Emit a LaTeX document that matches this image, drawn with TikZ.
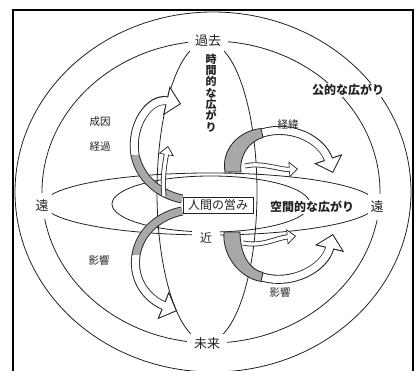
\documentclass[tikz,border=0pt]{standalone}
\usepackage{fontspec}
\setmainfont{Noto Sans CJK JP}
\usetikzlibrary{arrows.meta}
\definecolor{ink}{HTML}{222222}
\definecolor{ribgray}{HTML}{A8A8A8}
\tikzset{
  ln/.style={draw=ink, line width=0.8pt},
  lbl/.style={fill=white, text=ink, inner xsep=7pt, inner ysep=4pt, font=\fontsize{13}{13}\selectfont},
  sm/.style={text=ink, font=\fontsize{10.5}{10.5}\selectfont, inner sep=1pt},
  rout/.style={line width=9pt, draw=ink, -{Triangle[length=15pt,width=29pt]}},
  rin/.style={line width=7.2pt, draw=white, shorten >=1.5pt, -{Triangle[length=12.4pt,width=24.2pt]}},
  rgray/.style={line width=7.2pt, draw=ribgray},
  crescent/.style={fill=ribgray, draw=ink, line width=0.8pt},
  sout/.style={line width=5pt, draw=ink, -{Triangle[length=9pt,width=15pt]}},
  sin/.style={line width=3.4pt, draw=white, shorten >=1.3pt, -{Triangle[length=7pt,width=11.6pt]}},
}
\begin{document}
\begin{tikzpicture}[x=1pt,y=-1pt]
\useasboundingbox (0,0) rectangle (416,371);
% frame
\draw[black, line width=2pt] (13,371) -- (13,10) -- (413,10) -- (413,371);
% outer ellipse
\begin{scope}
  \clip (14,11) rectangle (412,371);
  \draw[ln] (213,192) ellipse [x radius=198pt, y radius=180pt];
\end{scope}
% second ellipse
\draw[ln] (211,192) ellipse [x radius=169pt, y radius=151pt];
% vertical lens
\draw[ln] (207,192) ellipse [x radius=50pt, y radius=150pt];
% horizontal lens
\draw[ln] (210,204) ellipse [x radius=166pt, y radius=31pt];
% inner loop
\draw[ln] (211,204) ellipse [x radius=99pt, y radius=28pt];

% ---- big hollow arrows ----
% upper left
\coordinate (ulA) at (182,199); \coordinate (ulM) at (135,155); \coordinate (ulT) at (181,104);
\draw[rout] (ulA) .. controls (158,194) and (140,178) .. (ulM) .. controls (130,125) and (150,97) .. (ulT);
\draw[rgray] (ulA) .. controls (158,194) and (140,178) .. (ulM);
\draw[rin] (ulM) .. controls (130,125) and (150,97) .. (ulT);
% lower left
\coordinate (llA) at (182,211); \coordinate (llM) at (136,255); \coordinate (llT) at (177,311);
\draw[rout] (llA) .. controls (158,216) and (140,232) .. (llM) .. controls (132,283) and (150,300) .. (llT);
\draw[rgray] (llA) .. controls (158,216) and (140,232) .. (llM);
\draw[rin] (llM) .. controls (132,283) and (150,300) .. (llT);
% upper right
\coordinate (urA) at (233,172); \coordinate (urM) at (262,133); \coordinate (urT) at (333,173);
\draw[rout] (urA) .. controls (229,153) and (242,139) .. (urM) .. controls (292,124) and (322,140) .. (urT);
\draw[rin] (urM) .. controls (292,124) and (322,140) .. (urT);
\draw[crescent] (225,172) .. controls (221,150) and (238,131) .. (261,128.5) -- (263,137.5)
  .. controls (249,141) and (239,156) .. (241,172) -- cycle;
% lower right
\coordinate (lrA) at (232,233); \coordinate (lrM) at (262,277); \coordinate (lrT) at (333,234);
\draw[rout] (lrA) .. controls (231,254) and (243,271) .. (lrM) .. controls (292,286) and (325,268) .. (lrT);
\draw[rin] (lrM) .. controls (292,286) and (325,268) .. (lrT);
\draw[crescent] (224,232) .. controls (222,256) and (240,278) .. (261,281.5) -- (263,272.5)
  .. controls (250,270) and (240,255) .. (240,232) -- cycle;

% ---- small hollow arrows ----
\coordinate (s1a) at (245,166); \coordinate (s1b) at (298,169);
\draw[sout] (s1a) .. controls (262,162) and (280,170) .. (s1b);
\draw[sin]  (s1a) .. controls (262,162) and (280,170) .. (s1b);
\coordinate (s2a) at (243,243); \coordinate (s2b) at (296,236);
\draw[sout] (s2a) .. controls (262,247) and (276,238) .. (s2b);
\draw[sin]  (s2a) .. controls (262,247) and (276,238) .. (s2b);
\coordinate (s3a) at (164,196); \coordinate (s3b) at (168,146);
\draw[sout] (s3a) .. controls (162,178) and (165,162) .. (s3b);
\draw[sin]  (s3a) .. controls (162,178) and (165,162) .. (s3b);

% ---- labels on the rings ----
\node[lbl] (kako) at (208,41) {過去};
\node[lbl] (mirai) at (207,344) {未来};
\node[lbl, inner xsep=3pt, inner ysep=7pt] (enL) at (42,206) {遠};
\node[lbl, inner xsep=3pt, inner ysep=7pt] (enR) at (377,207) {遠};
\node[lbl, inner xsep=8pt, inner ysep=2pt, font=\fontsize{12}{12}\selectfont] (kin) at (206,238) {近};

% center box
\node[draw=ink, line width=0.8pt, fill=white, text=ink, inner xsep=3pt, inner ysep=2pt,
      minimum width=70pt, minimum height=16pt, font=\fontsize{12}{12}\selectfont] (human) at (218,205) {人間の営み};
\node[fill=white, text=ink, inner sep=1pt, font=\bfseries\fontsize{12}{12}\selectfont] (space) at (312,207) {空間的な広がり};
\node[fill=white, text=ink, inner sep=1pt, font=\bfseries\fontsize{12}{12}\selectfont] (public) at (348,90) {公的な広がり};
\node[fill=white, text=ink, inner sep=1pt, align=center, font=\bfseries\fontsize{11}{11.3}\selectfont] (time) at (211,93) {時\\間\\的\\な\\広\\が\\り};

% small labels
\node[sm] (seiin) at (100,122) {成因};
\node[sm] (keika) at (100,147) {経過};
\node[sm] (eikyoL) at (99,261) {影響};
\node[sm] (keii) at (288,125) {経緯};
\node[sm] (eikyoR) at (280,293) {影響};
\end{tikzpicture}
\end{document}
